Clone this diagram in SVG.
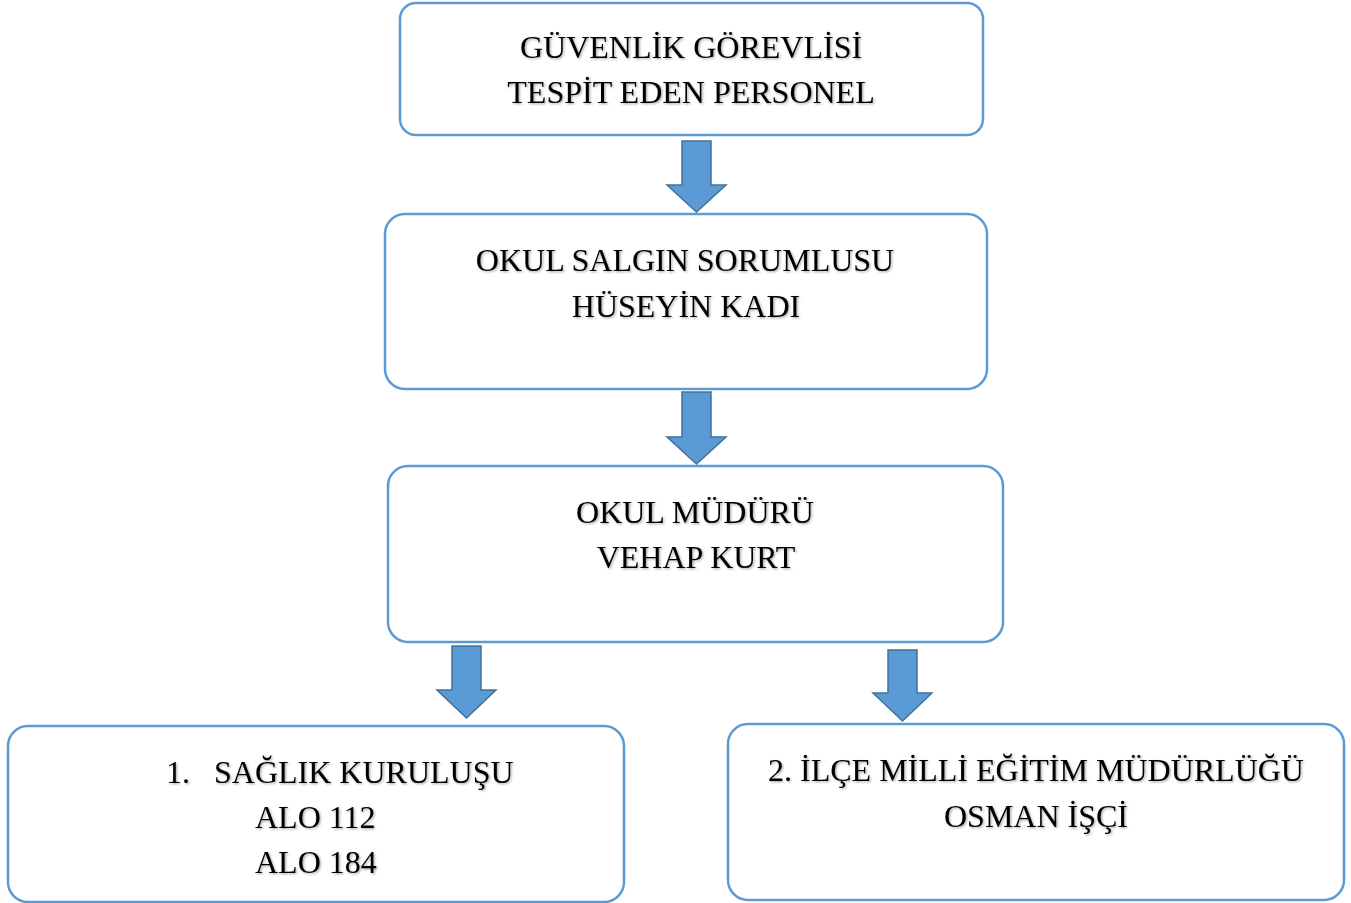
<svg xmlns="http://www.w3.org/2000/svg" width="1351" height="903" viewBox="0 0 1351 903">
<defs>
<filter id="sh" x="-5%" y="-20%" width="110%" height="140%">
<feDropShadow dx="1.2" dy="1.2" stdDeviation="0.8" flood-color="#000" flood-opacity="0.35"/>
</filter>
</defs>
<style>
.box{fill:#fff;stroke:#5B9BD5;stroke-width:2.5}
.arr{fill:#5B9BD5;stroke:#41719C;stroke-width:1.5;stroke-linejoin:miter}
.t{font-family:"Liberation Serif","Times New Roman",serif;font-size:32px;fill:#000;filter:url(#sh)}
.c{text-anchor:middle}
</style>
<rect width="1351" height="903" fill="#fff"/>
<g id="n1">
<rect class="box" x="400" y="3" width="583" height="132" rx="16"/>
<text class="t c" x="691" y="58">GÜVENLİK GÖREVLİSİ</text>
<text class="t c" x="691" y="103">TESPİT EDEN PERSONEL</text>
</g>
<g id="n2">
<rect class="box" x="385" y="214" width="602" height="175" rx="20"/>
<text class="t c" x="685" y="271">OKUL SALGIN SORUMLUSU</text>
<text class="t c" x="686" y="317">HÜSEYİN KADI</text>
</g>
<g id="n3">
<rect class="box" x="388" y="466" width="615" height="176" rx="20"/>
<text class="t c" x="695" y="523">OKUL MÜDÜRÜ</text>
<text class="t c" x="696" y="568">VEHAP KURT</text>
</g>
<g id="n4">
<rect class="box" x="8" y="726" width="616" height="176" rx="20"/>
<text class="t" x="166" y="783">1.</text>
<text class="t" x="214" y="783">SAĞLIK KURULUŞU</text>
<text class="t" x="255" y="828">ALO 112</text>
<text class="t" x="255" y="873">ALO 184</text>
</g>
<g id="n5">
<rect class="box" x="728" y="724" width="616" height="176" rx="20"/>
<text class="t c" x="1036" y="781">2. İLÇE MİLLİ EĞİTİM MÜDÜRLÜĞÜ</text>
<text class="t c" x="1036" y="827">OSMAN İŞÇİ</text>
</g>
<g id="connectors">
<path class="arr" d="M682,141 H711 V185 H726 L696.5,212 L667,185 H682 Z"/>
<path class="arr" d="M682,392 H711 V437 H726 L696.5,464 L667,437 H682 Z"/>
<path class="arr" d="M452,646 H481 V690 H496 L466.5,718 L437,690 H452 Z"/>
<path class="arr" d="M888,650 H917 V693 H932 L902.5,721 L873,693 H888 Z"/>
</g>
</svg>
